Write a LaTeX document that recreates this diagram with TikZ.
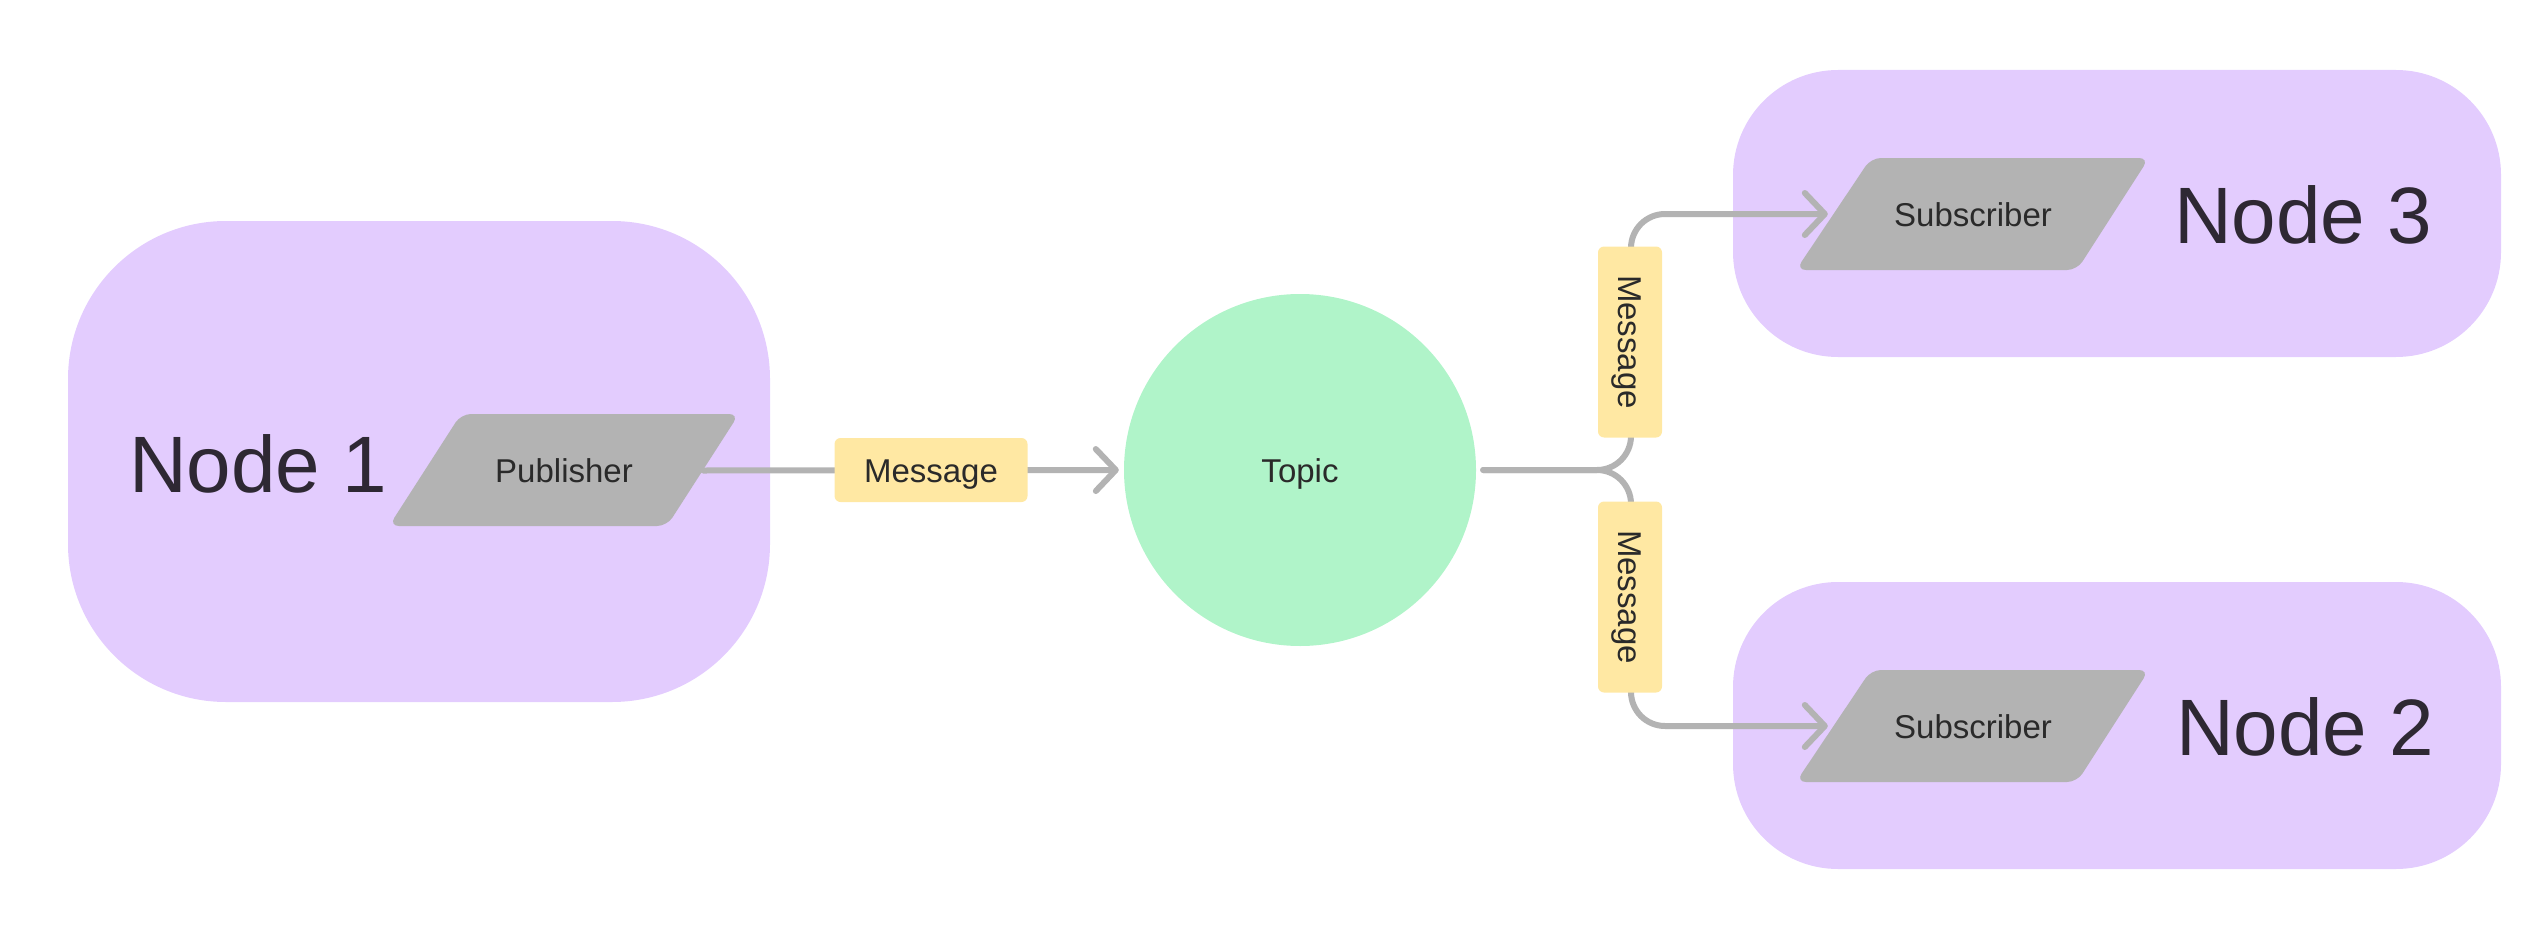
\documentclass[tikz,border=0pt]{standalone}
\usepackage{fontspec}
\setmainfont{Liberation Sans}
\usetikzlibrary{arrows.meta}
\definecolor{boxpurple}{HTML}{E3CCFE}
\definecolor{topicgreen}{HTML}{B0F4C9}
\definecolor{msgyellow}{HTML}{FFE8A3}
\definecolor{shapegray}{HTML}{B3B3B3}
\definecolor{linegray}{HTML}{B3B3B3}
\definecolor{darktext}{HTML}{2E2833}
\definecolor{smalltext}{HTML}{2A2A2A}
\begin{document}
\begin{tikzpicture}[x=1pt,y=-1pt,
  hostbox/.style={fill=boxpurple, draw=none, inner sep=0pt},
  biglabel/.style={font=\fontsize{80}{90}\selectfont, text=darktext, text height=58pt, text depth=0pt, inner sep=0pt},
  smalllabel/.style={font=\fontsize{33}{40}\selectfont, text=smalltext, text height=24pt, text depth=0pt, inner sep=0pt},
  para/.style={fill=shapegray, rounded corners=10pt},
  msgbox/.style={smalllabel, fill=msgyellow, rounded corners=6pt, minimum width=193pt, minimum height=64pt},
  conn/.style={draw=linegray, line width=6pt, line cap=round, line join=round},
  arr/.style={-{Straight Barb[length=20pt,width=42pt,round]}},
]
\useasboundingbox (0,0) rectangle (2548,931);

% host boxes
\node[hostbox, rounded corners=158pt, minimum width=702pt, minimum height=481pt] (host1) at (419,461.5) {};
\node[hostbox, rounded corners=105pt, minimum width=768pt, minimum height=287pt] (host3) at (2117,213.5) {};
\node[hostbox, rounded corners=105pt, minimum width=768pt, minimum height=287pt] (host2) at (2117,725.5) {};

% parallelograms
\fill[para] (461,414) -- (739,414) -- (667,526) -- (389,526) -- cycle;
\fill[para] (1871,158) -- (2149,158) -- (2077,270) -- (1796,270) -- cycle;
\fill[para] (1871,670) -- (2149,670) -- (2077,782) -- (1796,782) -- cycle;

\node[smalllabel, minimum width=278pt, minimum height=112pt] (pub) at (564,470.5) {Publisher};
\node[smalllabel, minimum width=280pt, minimum height=112pt] (sub3) at (1973,214) {Subscriber};
\node[smalllabel, minimum width=280pt, minimum height=112pt] (sub2) at (1973,726) {Subscriber};

% host labels
\node[biglabel] (n1) at (258,463) {Node 1};
\node[biglabel] (n3) at (2303,214.5) {Node 3};
\node[biglabel] (n2) at (2305,726.5) {Node 2};

% topic
\node[circle, fill=topicgreen, minimum size=352pt, inner sep=0pt, smalllabel] (topic) at (1300,470) {Topic};

% connectors
\draw[conn, arr, shorten >=5pt] (pub.east) -- (topic.west);
\draw[conn, arr, rounded corners=34pt, shorten <=7pt, shorten >=5pt] (topic.east) -- (1631,470) -- (1631,214) -- (sub3.west);
\draw[conn, arr, rounded corners=34pt, shorten <=7pt, shorten >=5pt] (topic.east) -- (1631,470) -- (1631,726) -- (sub2.west);

% message labels
\node[msgbox] (msg1) at (931,470) {Message};
\node[msgbox, rotate=-90, minimum width=191pt] (msg3) at (1630,342) {Message};
\node[msgbox, rotate=-90, minimum width=191pt] (msg2) at (1630,597) {Message};
\end{tikzpicture}
\end{document}
